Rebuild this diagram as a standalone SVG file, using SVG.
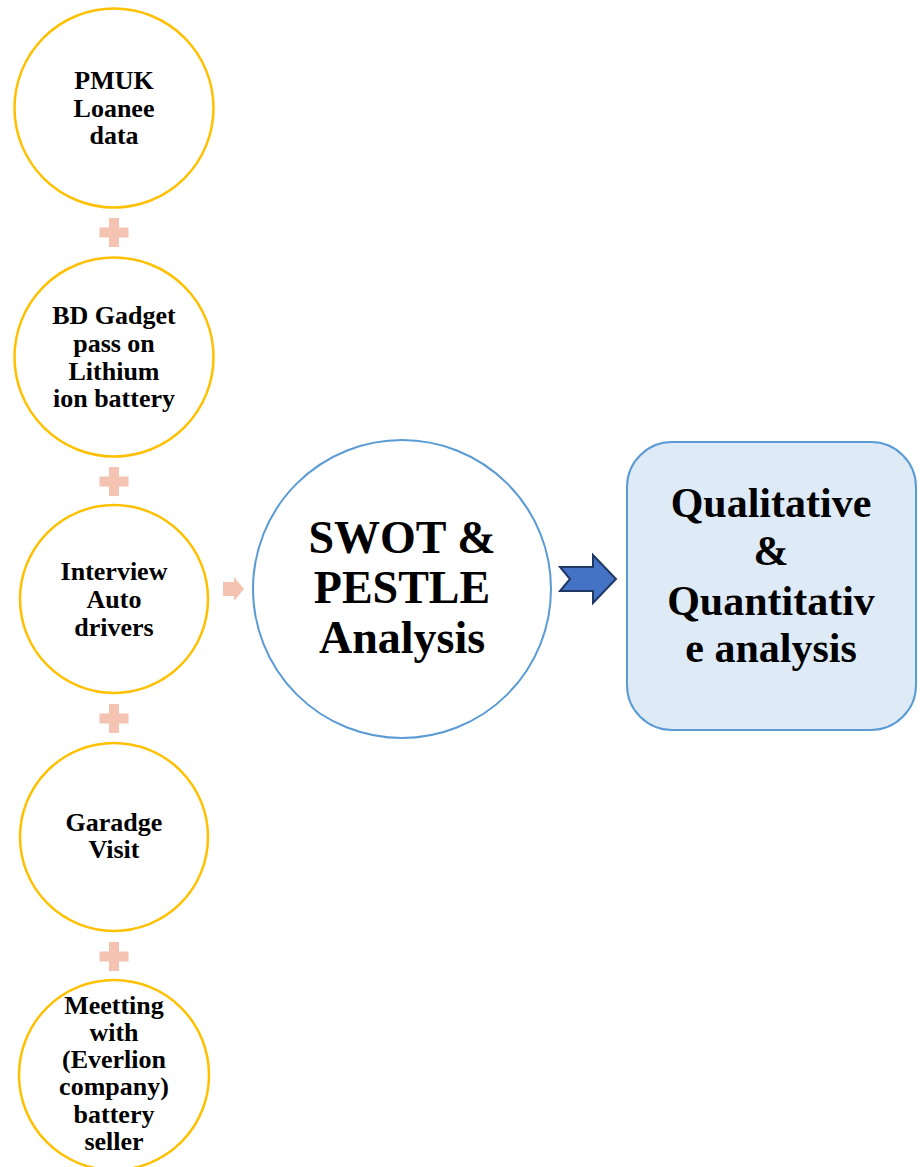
<svg xmlns="http://www.w3.org/2000/svg" width="920" height="1167" viewBox="0 0 920 1167">
<style>
.src{fill:#FFFFFF;stroke:#FFC000;stroke-width:2.5}
.t{font-family:"Liberation Serif","Times New Roman",serif;font-weight:bold;fill:#000;text-anchor:middle}
.s{font-size:26px}
.big{font-size:46px}
.q{font-size:42px}
.plus{fill:#F4C3B1}
</style>
<rect width="920" height="1167" fill="#FFFFFF"/>
<g id="connectors">
<path class="plus" d="M109,218h10v9.5h9.5v10h-9.5v9.5h-10v-9.5h-9.5v-10h9.5z"/>
<path class="plus" d="M109,467h10v9.5h9.5v10h-9.5v9.5h-10v-9.5h-9.5v-10h9.5z"/>
<path class="plus" d="M109,704h10v9.5h9.5v10h-9.5v9.5h-10v-9.5h-9.5v-10h9.5z"/>
<path class="plus" d="M109,942h10v9.5h9.5v10h-9.5v9.5h-10v-9.5h-9.5v-10h9.5z"/>
<path class="plus" d="M223,582h11v-5l10,12l-10,12v-5h-11z"/>
<path d="M560,567h33v-12l23,24l-23,24v-12h-33l10,-12z" fill="#4472C4" stroke="#1F3864" stroke-width="2" stroke-linejoin="miter"/>
</g>
<g id="n1">
<circle class="src" cx="114" cy="108" r="99.5"/>
<text class="t s" x="114" y="89">PMUK</text>
<text class="t s" x="114" y="117">Loanee</text>
<text class="t s" x="114" y="144">data</text>
</g>
<g id="n2">
<circle class="src" cx="114" cy="357" r="99.5"/>
<text class="t s" x="114" y="324">BD Gadget</text>
<text class="t s" x="114" y="352">pass on</text>
<text class="t s" x="114" y="380">Lithium</text>
<text class="t s" x="114" y="407">ion battery</text>
</g>
<g id="n3">
<circle class="src" cx="114" cy="599" r="94"/>
<text class="t s" x="114" y="580">Interview</text>
<text class="t s" x="114" y="608">Auto</text>
<text class="t s" x="114" y="636">drivers</text>
</g>
<g id="n4">
<circle class="src" cx="114" cy="837" r="94"/>
<text class="t s" x="114" y="831">Garadge</text>
<text class="t s" x="114" y="858">Visit</text>
</g>
<g id="n5">
<circle class="src" cx="114" cy="1075" r="95"/>
<text class="t s" x="114" y="1014">Meetting</text>
<text class="t s" x="114" y="1041">with</text>
<text class="t s" x="114" y="1068">(Everlion</text>
<text class="t s" x="114" y="1095">company)</text>
<text class="t s" x="114" y="1123">battery</text>
<text class="t s" x="114" y="1150">seller</text>
</g>
<g id="swot">
<circle cx="402" cy="589" r="149" fill="#FFFFFF" stroke="#5B9BD5" stroke-width="2"/>
<text class="t big" x="402" y="553">SWOT &amp;</text>
<text class="t big" x="402" y="603">PESTLE</text>
<text class="t big" x="402" y="653">Analysis</text>
</g>
<g id="result">
<rect x="627" y="442" width="289" height="288" rx="45" ry="45" fill="#DEEAF6" stroke="#5B9BD5" stroke-width="2"/>
<text class="t q" x="771" y="517">Qualitative</text>
<text class="t q" x="771" y="565">&amp;</text>
<text class="t q" x="771" y="615">Quantitativ</text>
<text class="t q" x="771" y="662">e analysis</text>
</g>
</svg>
